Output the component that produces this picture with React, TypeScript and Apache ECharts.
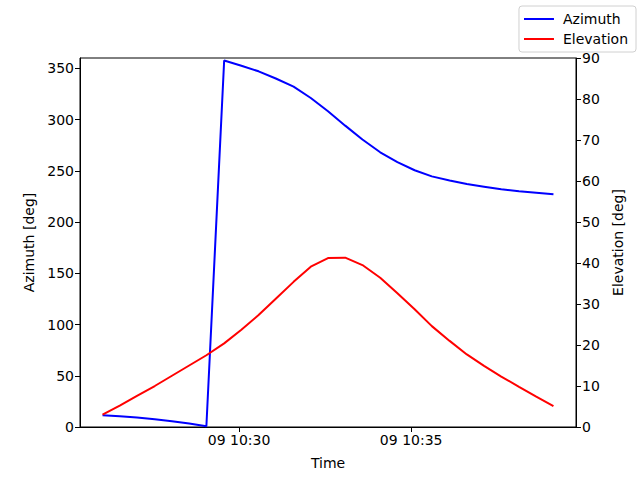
import { useEffect, useRef } from 'react'
import * as echarts from 'echarts'

// sample times (day 09), about every 30 s
const times = [
  '10:26:02', '10:26:32', '10:27:02', '10:27:33', '10:28:03', '10:28:33', '10:29:03',
  '10:29:34', '10:30:04', '10:30:34', '10:31:04', '10:31:35', '10:32:05', '10:32:35',
  '10:33:05', '10:33:35', '10:34:06', '10:34:36', '10:35:06', '10:35:36', '10:36:07',
  '10:36:37', '10:37:07', '10:37:37', '10:38:08', '10:38:38', '10:39:08',
]

const azimuth = [
  11.5, 10.5, 9.2, 7.6, 5.7, 3.5, 0.7, 357.5, 352.5, 347, 340, 332, 321, 308,
  294, 280.5, 268, 258.5, 250.5, 244.5, 240.5, 237, 234.5, 232, 230, 228.5, 227,
]

const elevation = [
  3.0, 5.2, 7.6, 10.0, 12.5, 15.0, 17.5, 20.4, 23.7, 27.3, 31.3, 35.4, 39.1, 41.2,
  41.3, 39.5, 36.4, 32.6, 28.7, 24.6, 21.0, 17.7, 14.9, 12.3, 9.8, 7.4, 5.1,
]

const xTickLabels = ['10:30', '10:35']
const datePrefix = '09'

const toSec = (t: string) => {
  const [h, m, s] = t.split(':').map(Number)
  return h * 3600 + m * 60 + (s || 0)
}

const font = 'DejaVu Sans, sans-serif'

export default function App() {
  const chartRef = useRef<HTMLDivElement>(null)

  useEffect(() => {
    document.body.style.margin = '0'
    if (!chartRef.current) return
    const chart = echarts.init(chartRef.current, null, { renderer: 'svg' })

    const secs = times.map(toSec)
    const span = secs[secs.length - 1] - secs[0]
    const xMin = secs[0] - span * 0.05
    const xMax = secs[secs.length - 1] + span * 0.05
    const tickSecs = xTickLabels.map(toSec)

    const pad = (n: number) => String(n).padStart(2, '0')
    const fmtTime = (v: number) =>
      `${datePrefix} ${pad(Math.floor(v / 3600))}:${pad(Math.floor((v % 3600) / 60))}`

    const axisCommon = {
      axisLine: { show: true, lineStyle: { color: '#000', width: 1 } },
      axisTick: { show: true, length: 5, lineStyle: { color: '#000', width: 1 } },
      axisLabel: { color: '#000', fontSize: 14, fontFamily: font, margin: 6 },
      splitLine: { show: false },
      nameTextStyle: { color: '#000', fontSize: 14, fontFamily: font },
    }

    const option: echarts.EChartsOption = {
      animation: false,
      backgroundColor: '#fff',
      textStyle: { fontFamily: font },
      grid: {
        left: 80,
        right: 64,
        top: 58,
        bottom: 53,
        show: true,
        borderColor: '#000',
        borderWidth: 1,
        containLabel: false,
        outerBoundsMode: 'none',
      } as any,
      legend: {
        orient: 'vertical',
        right: 4,
        top: 6,
        padding: [6, 8, 6, 5],
        itemGap: 6,
        itemWidth: 30,
        itemHeight: 2,
        icon: 'rect',
        borderColor: '#d0d0d0',
        borderWidth: 1,
        borderRadius: 3,
        backgroundColor: '#fff',
        textStyle: { color: '#000', fontSize: 14, fontFamily: font, padding: [0, 0, 0, 4] },
        data: ['Azimuth', 'Elevation'],
      },
      xAxis: {
        type: 'value',
        min: xMin,
        max: xMax,
        name: 'Time',
        nameLocation: 'middle',
        nameGap: 29,
        ...axisCommon,
        axisTick: { ...axisCommon.axisTick, customValues: tickSecs } as any,
        axisLabel: {
          ...axisCommon.axisLabel,
          customValues: tickSecs,
          formatter: (v: number) => fmtTime(v),
        } as any,
      },
      yAxis: [
        {
          type: 'value',
          min: 0,
          max: 360,
          interval: 50,
          position: 'left',
          name: 'Azimuth [deg]',
          nameLocation: 'middle',
          nameGap: 43,
          nameRotate: 90,
          ...axisCommon,
          axisLabel: { ...axisCommon.axisLabel, showMaxLabel: false },
        },
        {
          type: 'value',
          min: 0,
          max: 90,
          interval: 10,
          position: 'right',
          name: 'Elevation [deg]',
          nameLocation: 'middle',
          nameGap: 26,
          nameRotate: 90,
          ...axisCommon,
        },
      ],
      series: [
        {
          name: 'Azimuth',
          type: 'line',
          yAxisIndex: 0,
          symbol: 'none',
          color: '#0000ff',
          lineStyle: { color: '#0000ff', width: 2 },
          data: secs.map((s, i) => [s, azimuth[i]]),
        },
        {
          name: 'Elevation',
          type: 'line',
          yAxisIndex: 1,
          symbol: 'none',
          color: '#ff0000',
          lineStyle: { color: '#ff0000', width: 2 },
          data: secs.map((s, i) => [s, elevation[i]]),
        },
      ],
    }

    chart.setOption(option)
    return () => {
      chart.dispose()
    }
  }, [])

  return <div ref={chartRef} style={{ width: 640, height: 480 }} />
}
